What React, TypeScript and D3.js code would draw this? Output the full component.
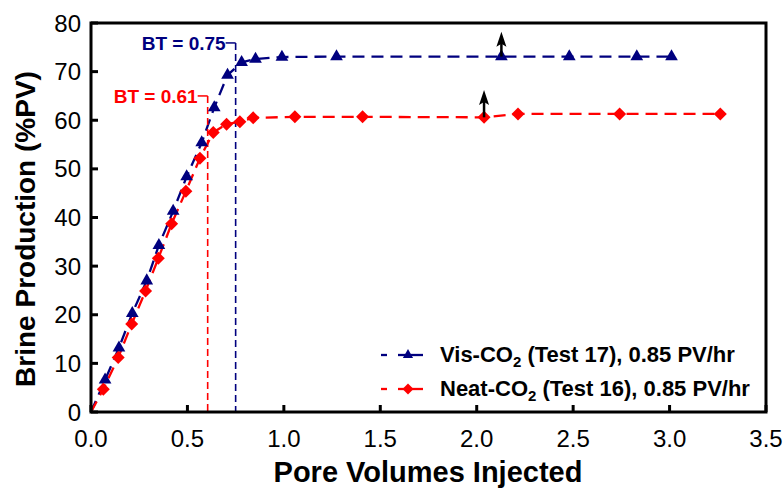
import React from 'react';
import * as d3 from 'd3';

// Vis-CO2 (Test 17)
const visX = [0, 0.073, 0.145, 0.214, 0.289, 0.352, 0.426, 0.496, 0.574, 0.639, 0.708, 0.781, 0.853, 0.99, 1.273, 2.128, 2.48, 2.83, 3.01];
const visY = [0, 6.6, 13.2, 20.3, 27.0, 34.3, 41.3, 48.4, 55.4, 62.6, 69.3, 71.9, 72.6, 73.0, 73.1, 73.1, 73.1, 73.1, 73.1];

// Neat-CO2 (Test 16)
const neatX = [0, 0.064, 0.141, 0.211, 0.283, 0.349, 0.418, 0.492, 0.565, 0.634, 0.703, 0.772, 0.841, 1.057, 1.408, 2.038, 2.214, 2.741, 3.263];
const neatY = [0, 4.7, 11.2, 18.1, 24.9, 31.6, 38.7, 45.4, 52.2, 57.5, 59.2, 59.7, 60.5, 60.7, 60.7, 60.6, 61.3, 61.3, 61.3];

const xTicks = [0, 0.5, 1, 1.5, 2, 2.5, 3, 3.5];
const yTicks = [0, 10, 20, 30, 40, 50, 60, 70, 80];

// breakthrough markers
const btX = [0.75, 0.605];
const btLabels = ['BT = 0.75', 'BT = 0.61'];
const btY = [75.9, 65.0];

// up arrows (x, from, to)
const arrowX = [2.128, 2.038];
const arrowFrom = [73.1, 60.6];
const arrowTo = [78.2, 66.2];

const NAVY = '#00007f';
const RED = '#ff0000';
const FONT = '"Liberation Sans", Arial, sans-serif';

const W = 783;
const H = 490;
const m = { left: 91, right: 17, top: 23, bottom: 78 };

export default function App() {
  const x = d3.scaleLinear().domain([0, 3.5]).range([m.left, W - m.right]);
  const y = d3.scaleLinear().domain([0, 80]).range([H - m.bottom, m.top]);

  const line = d3.line<number[]>().x(d => x(d[0])).y(d => y(d[1]));
  const vis = visX.map((v, i) => [v, visY[i]]);
  const neat = neatX.map((v, i) => [v, neatY[i]]);

  const tri = d3.symbol(d3.symbolTriangle, 70)()!;
  const dia = (s: number) => `M0,${-s}L${s},0L0,${s}L${-s},0Z`;

  const series = [
    { data: vis, color: NAVY, marker: 'tri' },
    { data: neat, color: RED, marker: 'dia' },
  ];

  return (
    <svg width={W} height={H} style={{ position: 'absolute', left: 0, top: 0 }} fontFamily={FONT}>
      <rect width={W} height={H} fill="#fff" />

      {/* data lines */}
      {series.map((s, i) => (
        <path key={'l' + i} d={line(s.data)!} fill="none" stroke={s.color} strokeWidth={2.3} strokeDasharray="12,7" />
      ))}

      {/* breakthrough lines */}
      {btX.map((b, i) => {
        const c = i === 0 ? NAVY : RED;
        const xv = x(b);
        const yv = y(btY[i]);
        return (
          <g key={'bt' + i}>
            <line x1={xv - 10} x2={xv} y1={yv} y2={yv} stroke={c} strokeWidth={1.5} />
            <line x1={xv} x2={xv} y1={yv} y2={y(0)} stroke={c} strokeWidth={1.6} strokeDasharray="7,4" />
            <text x={xv - 10} y={yv + 7} textAnchor="end" fontSize={19} fontWeight="bold" fill={c}>{btLabels[i]}</text>
          </g>
        );
      })}

      {/* markers */}
      {series.map((s, i) => (
        <g key={'m' + i} fill={s.color}>
          {s.data.filter(d => d[0] > 0).map((d, j) => (
            <path key={j} transform={`translate(${x(d[0])},${y(d[1])})`} d={s.marker === 'tri' ? tri : dia(6.5)} />
          ))}
        </g>
      ))}

      {/* arrows */}
      {arrowX.map((a, i) => {
        const xa = x(a);
        const y0 = y(arrowFrom[i]);
        const y1 = y(arrowTo[i]);
        return (
          <g key={'a' + i}>
            <line x1={xa} x2={xa} y1={y0} y2={y1 + 8} stroke="#000" strokeWidth={2.5} />
            <path d={`M${xa},${y1}L${xa + 5},${y1 + 15}L${xa},${y1 + 12}L${xa - 5},${y1 + 15}Z`} fill="#000" />
          </g>
        );
      })}

      {/* frame */}
      <rect x={m.left} y={m.top} width={W - m.left - m.right} height={H - m.top - m.bottom} fill="none" stroke="#000" strokeWidth={3} />

      {/* ticks */}
      {xTicks.map(t => (
        <g key={'xt' + t}>
          <line x1={x(t)} x2={x(t)} y1={y(0)} y2={y(0) - 7} stroke="#000" strokeWidth={3} />
          <text x={x(t)} y={447} textAnchor="middle" fontSize={24}>{t.toFixed(1)}</text>
        </g>
      ))}
      {yTicks.map(t => (
        <g key={'yt' + t}>
          <line x1={m.left} x2={m.left + 7} y1={y(t)} y2={y(t)} stroke="#000" strokeWidth={3} />
          <text x={81} y={y(t) + 8.5} textAnchor="end" fontSize={24}>{t}</text>
        </g>
      ))}

      {/* axis titles */}
      <text x={428} y={482} textAnchor="middle" fontSize={29} fontWeight="bold">Pore Volumes Injected</text>
      <text transform="translate(35,229) rotate(-90)" textAnchor="middle" fontSize={28} fontWeight="bold">Brine Production (%PV)</text>

      {/* legend */}
      {[
        { color: NAVY, marker: 'tri', name: 'Vis-CO', rest: ' (Test 17), 0.85 PV/hr', yy: 355 },
        { color: RED, marker: 'dia', name: 'Neat-CO', rest: ' (Test 16), 0.85 PV/hr', yy: 389 },
      ].map((l, i) => (
        <g key={'lg' + i}>
          <line x1={381} x2={387} y1={l.yy} y2={l.yy} stroke={l.color} strokeWidth={2.3} />
          <line x1={398} x2={423} y1={l.yy} y2={l.yy} stroke={l.color} strokeWidth={2.3} />
          <path transform={`translate(408,${l.yy})`} d={l.marker === 'tri' ? d3.symbol(d3.symbolTriangle, 45)()! : dia(5.5)} fill={l.color} />
          <text x={440} y={l.yy + 7} fontSize={22} fontWeight="bold">
            {l.name}
            <tspan fontSize={15} dy={5}>2</tspan>
            <tspan dy={-5}>{l.rest}</tspan>
          </text>
        </g>
      ))}
    </svg>
  );
}
